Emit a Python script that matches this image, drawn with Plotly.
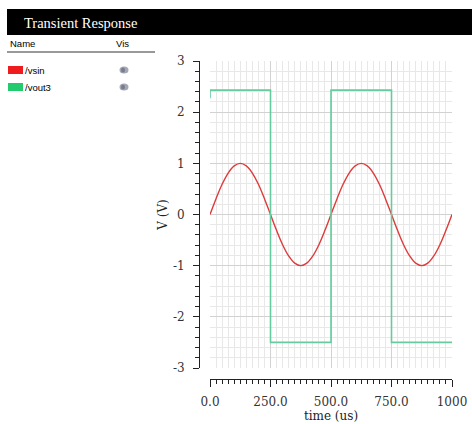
import plotly.graph_objects as go

# ---- data ----
time_us = [0, 25, 50, 75, 100, 125, 150, 175, 200, 225, 250, 275, 300, 325, 350, 375,
           400, 425, 450, 475, 500, 525, 550, 575, 600, 625, 650, 675, 700, 725, 750,
           775, 800, 825, 850, 875, 900, 925, 950, 975, 1000]
vsin = [0.0, 0.31, 0.59, 0.81, 0.95, 1.0, 0.95, 0.81, 0.59, 0.31, 0.0, -0.31, -0.59,
        -0.81, -0.95, -1.0, -0.95, -0.81, -0.59, -0.31, 0.0, 0.31, 0.59, 0.81, 0.95,
        1.0, 0.95, 0.81, 0.59, 0.31, 0.0, -0.31, -0.59, -0.81, -0.95, -1.0, -0.95,
        -0.81, -0.59, -0.31, 0.0]

vout3_t = [0, 0, 250, 250, 500, 500, 750, 750, 1000]
vout3 = [2.27, 2.43, 2.43, -2.5, -2.5, 2.43, 2.43, -2.5, -2.5]

x_ticks = [0, 250, 500, 750, 1000]
x_tick_text = ["0.0", "250.0", "500.0", "750.0", "1000"]
y_ticks = [-3, -2, -1, 0, 1, 2, 3]

# ---- page geometry (pixels) ----
W, H = 472, 424
L, R, T, B = 199, 20, 61, 45
PW, PH = W - L - R, H - T - B


def px(x):
    return (x - L) / PW


def py(y):
    return (H - B - y) / PH


RED = "#dd3b3b"
GREEN = "#66cc9f"
SERIF = "DejaVu Serif"
SANS = "Liberation Sans"

fig = go.Figure()
fig.add_trace(go.Scatter(x=time_us, y=vsin, mode="lines", name="/vsin",
                         line=dict(color=RED, width=1.4, shape="spline"),
                         xaxis="x", yaxis="y", showlegend=False))
fig.add_trace(go.Scatter(x=vout3_t, y=vout3, mode="lines", name="/vout3",
                         line=dict(color=GREEN, width=1.6),
                         xaxis="x", yaxis="y", showlegend=False))
# carrier for the offset scale axes
fig.add_trace(go.Scatter(x=[0, 1000], y=[-3, 3], mode="markers",
                         marker=dict(opacity=0), hoverinfo="skip",
                         xaxis="x2", yaxis="y2", showlegend=False))

grid_major = dict(showgrid=True, gridcolor="#d2d2d2", gridwidth=1)
grid_minor = dict(showgrid=True, gridcolor="#e8e8e8", gridwidth=1)

fig.update_layout(
    width=W, height=H,
    margin=dict(l=L, r=R, t=T, b=B),
    paper_bgcolor="white", plot_bgcolor="white",
    xaxis=dict(domain=[px(210), 1], range=[0, 1000], anchor="y", automargin=False,
               tickmode="linear", tick0=0, dtick=250, showticklabels=False,
               ticks="", showline=False, zeroline=False,
               minor=dict(dtick=25, tick0=0, **grid_minor), **grid_major),
    yaxis=dict(domain=[py(368), 1], range=[-3, 3], anchor="x", automargin=False,
               tickmode="linear", tick0=0, dtick=1, showticklabels=False,
               ticks="", showline=False, zeroline=False,
               minor=dict(dtick=0.2, tick0=0, **grid_minor), **grid_major),
    xaxis2=dict(overlaying="x", anchor="free", position=0, range=[0, 1000],
                automargin=False,
                showgrid=False, zeroline=False, showline=True, linecolor="#222",
                linewidth=1, ticks="outside", ticklen=7, tickcolor="#222",
                tickmode="array", tickvals=x_ticks, ticktext=x_tick_text,
                minor=dict(ticks="outside", ticklen=4, tickcolor="#222",
                           tickmode="linear", tick0=0, dtick=25, showgrid=False),
                tickfont=dict(family=SERIF, size=12, color="#333"),
                ticklabelstandoff=5,
                title=dict(text="time (us)", standoff=3,
                           font=dict(family=SERIF, size=12, color="#222"))),
    yaxis2=dict(overlaying="y", anchor="free", position=0, range=[-3, 3],
                automargin=False,
                showgrid=False, zeroline=False, showline=True, linecolor="#222",
                linewidth=1, ticks="outside", ticklen=6, tickcolor="#222",
                tickmode="array", tickvals=y_ticks,
                ticktext=[str(v) for v in y_ticks],
                minor=dict(ticks="outside", ticklen=4, tickcolor="#222",
                           tickmode="linear", tick0=0, dtick=0.2, showgrid=False),
                tickfont=dict(family=SERIF, size=12, color="#333"),
                ticklabelstandoff=6,
                title=dict(text="V (V)", standoff=1,
                           font=dict(family=SERIF, size=12, color="#222"))),
)

# header bar
fig.add_shape(type="rect", xref="paper", yref="paper",
              x0=px(7), x1=px(472), y0=py(35), y1=py(9),
              fillcolor="black", line=dict(width=0), layer="above")
fig.add_annotation(xref="paper", yref="paper", x=px(22), y=py(23.5),
                   xanchor="left", yanchor="middle", showarrow=False,
                   text="Transient Response",
                   font=dict(family="Liberation Serif", size=14.5, color="white"))

# signal list panel
fig.add_annotation(xref="paper", yref="paper", x=px(8), y=py(44),
                   xanchor="left", yanchor="middle", showarrow=False, text="Name",
                   font=dict(family=SANS, size=9.5, color="black"))
fig.add_annotation(xref="paper", yref="paper", x=px(114), y=py(44),
                   xanchor="left", yanchor="middle", showarrow=False, text="Vis",
                   font=dict(family=SANS, size=9.5, color="black"))
fig.add_shape(type="line", xref="paper", yref="paper",
              x0=px(7), x1=px(155), y0=py(52), y1=py(52),
              line=dict(color="#333", width=1))

entries = [("/vsin", "#ee1c1c", 70), ("/vout3", "#22cc6e", 87)]
for label, col, yc in entries:
    fig.add_shape(type="rect", xref="paper", yref="paper",
                  x0=px(8), x1=px(23), y0=py(yc + 4), y1=py(yc - 4),
                  fillcolor=col, line=dict(width=0))
    fig.add_annotation(xref="paper", yref="paper", x=px(23), y=py(yc),
                       xanchor="left", yanchor="middle", showarrow=False, text=label,
                       font=dict(family=SANS, size=9.5, color="black"))
    # visibility icon
    fig.add_shape(type="circle", xref="paper", yref="paper",
                  x0=px(119.5), x1=px(128.5), y0=py(yc + 3.5), y1=py(yc - 3.5),
                  fillcolor="#a4a8b5", line=dict(width=0))
    fig.add_shape(type="circle", xref="paper", yref="paper",
                  x0=px(121), x1=px(125), y0=py(yc + 2.5), y1=py(yc - 2.5),
                  fillcolor="#787c8e", line=dict(width=0))

fig.write_html("out.html")
